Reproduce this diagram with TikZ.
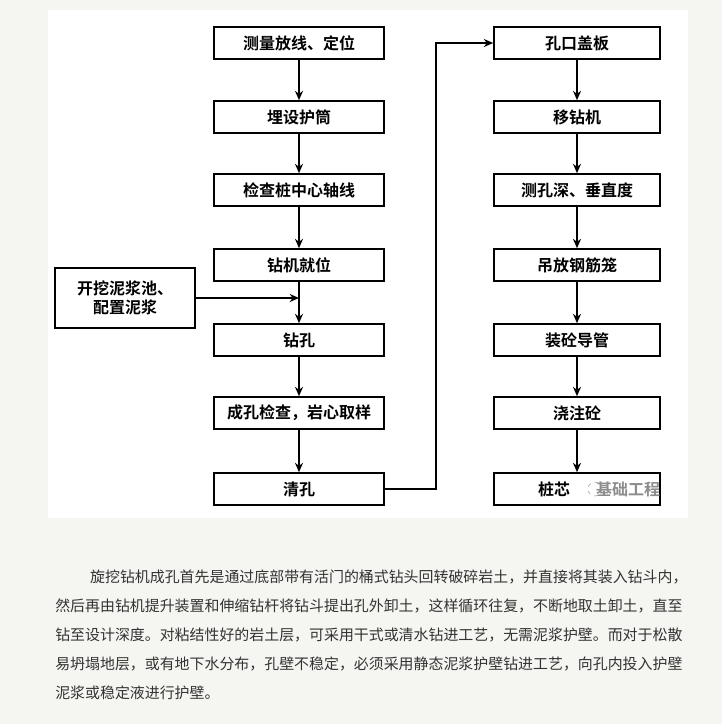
\documentclass[tikz,border=0pt]{standalone}
\usepackage{fontspec}
\setmainfont{Noto Sans CJK SC}
\newfontfamily\cjkb{Noto Sans CJK SC Bold}
\usetikzlibrary{arrows.meta}
\definecolor{bg}{HTML}{F5F5F1}
\begin{document}
\begin{tikzpicture}[x=0.75pt,y=-0.75pt,
  box/.style={draw,line width=1.2pt,minimum width=127.5pt,minimum height=24pt,inner sep=0,font=\cjkb\fontsize{12}{14}\selectfont},
  arr/.style={-{Stealth[length=7pt,width=6pt]},line width=1.2pt},
  para/.style={anchor=west,inner sep=0,font=\fontsize{11.2}{13}\selectfont,text=black!80}]
\fill[bg] (0,0) rectangle (722,724);
\fill[white] (48,10) rectangle (688,518);
\node[box] (a1) at (299,43) {测量放线、定位};
\node[box] (a2) at (299,117) {埋设护筒};
\node[box] (a3) at (299,190) {检查桩中心轴线};
\node[box] (a4) at (299,265) {钻机就位};
\node[box] (a5) at (299,340) {钻孔};
\node[box] (a6) at (299,413) {成孔检查，岩心取样};
\node[box] (a7) at (299,489) {清孔};
\node[box,minimum width=124.5pt] (b1) at (577,43) {孔口盖板};
\node[box,minimum width=124.5pt] (b2) at (577,117) {移钻机};
\node[box,minimum width=124.5pt] (b3) at (577,190) {测孔深、垂直度};
\node[box,minimum width=124.5pt] (b4) at (577,265) {吊放钢筋笼};
\node[box,minimum width=124.5pt] (b5) at (577,340) {装砼导管};
\node[box,minimum width=124.5pt] (b6) at (577,413) {浇注砼};
\node[box,minimum width=124.5pt,text width=124.5pt,align=left] (b7) at (577,489) {\hspace*{33pt}桩芯};
\node[font=\cjkb\fontsize{12}{14}\selectfont,text=black!45] (wm) at (628,489) {基础工程};
\draw[black!40,dashed] (595,489) circle (7);
\node[box,minimum width=105pt,minimum height=45pt,align=center] (s) at (125,298) {开挖泥浆池、\\配置泥浆};
\foreach \u/\v in {a1/a2,a2/a3,a3/a4,a4/a5,a5/a6,a6/a7,b1/b2,b2/b3,b3/b4,b4/b5,b5/b6,b6/b7}
  \draw[arr] (\u) -- (\v);
\coordinate (m) at (299,298);
\draw[arr] (s.east|-m) -- (m);
\coordinate (c1) at (436,489);
\coordinate (c2) at (436,43);
\draw[arr] (a7.east) -- (c1) -- (c2) -- (b1.west);
\node[para] (p1) at (60,577) {\hspace*{2em}旋挖钻机成孔首先是通过底部带有活门的桶式钻头回转破碎岩土，并直接将其装入钻斗内，};
\node[para] (p2) at (55,606) {然后再由钻机提升装置和伸缩钻杆将钻斗提出孔外卸土，这样循环往复，不断地取土卸土，直至};
\node[para] (p3) at (55,635) {钻至设计深度。对粘结性好的岩土层，可采用干式或清水钻进工艺，无需泥浆护壁。而对于松散};
\node[para] (p4) at (55,664) {易坍塌地层，或有地下水分布，孔壁不稳定，必须采用静态泥浆护壁钻进工艺，向孔内投入护壁};
\node[para] (p5) at (55,693) {泥浆或稳定液进行护壁。};
\end{tikzpicture}
\end{document}
